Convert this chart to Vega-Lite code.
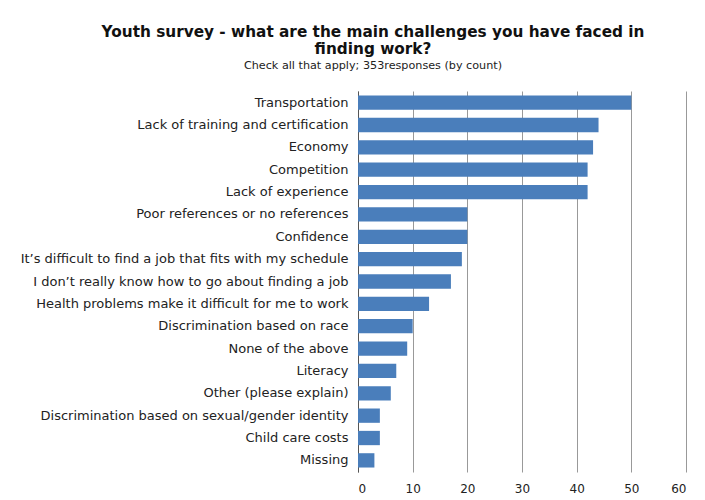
{
  "$schema": "https://vega.github.io/schema/vega-lite/v6.json",
  "width": 328,
  "height": 381,
  "autosize": {"type": "none"},
  "padding": {"left": 358, "top": 91, "right": 19, "bottom": 28},
  "background": "white",
  "title": {
    "text": ["Youth survey - what are the main challenges you have faced in", "finding work?"],
    "subtitle": "Check all that apply; 353responses (by count)",
    "font": "DejaVu Sans",
    "fontSize": 15.3,
    "fontWeight": "bold",
    "color": "#111111",
    "lineHeight": 17,
    "subtitleFont": "DejaVu Sans",
    "subtitleFontSize": 11.2,
    "subtitleColor": "#222222",
    "subtitlePadding": 3,
    "anchor": "middle",
    "dx": -149,
    "offset": 20
  },
  "data": {
    "values": [
      {"challenge": "Transportation", "count": 50},
      {"challenge": "Lack of training and certification", "count": 44},
      {"challenge": "Economy", "count": 43},
      {"challenge": "Competition", "count": 42},
      {"challenge": "Lack of experience", "count": 42},
      {"challenge": "Poor references or no references", "count": 20},
      {"challenge": "Confidence", "count": 20},
      {"challenge": "It’s difficult to find a job that fits with my schedule", "count": 19},
      {"challenge": "I don’t really know how to go about finding a job", "count": 17},
      {"challenge": "Health problems make it difficult for me to work", "count": 13},
      {"challenge": "Discrimination based on race", "count": 10},
      {"challenge": "None of the above", "count": 9},
      {"challenge": "Literacy", "count": 7},
      {"challenge": "Other (please explain)", "count": 6},
      {"challenge": "Discrimination based on sexual/gender identity", "count": 4},
      {"challenge": "Child care costs", "count": 4},
      {"challenge": "Missing", "count": 3}
    ]
  },
  "mark": {"type": "bar", "color": "#4a7ebb"},
  "encoding": {
    "y": {
      "field": "challenge",
      "type": "nominal",
      "sort": null,
      "scale": {"paddingInner": 0.36, "paddingOuter": 0.2},
      "axis": {
        "title": null,
        "labelFont": "DejaVu Sans",
        "labelFontSize": 13,
        "labelColor": "#222222",
        "labelLimit": 400,
        "labelPadding": 10,
        "domainColor": "#555555",
        "ticks": false
      }
    },
    "x": {
      "field": "count",
      "type": "quantitative",
      "scale": {"domain": [0, 60], "nice": false},
      "axis": {
        "title": null,
        "values": [0, 10, 20, 30, 40, 50, 60],
        "labelFont": "DejaVu Sans",
        "labelFontSize": 12,
        "labelColor": "#222222",
        "labelPadding": 11,
        "domain": false,
        "ticks": false,
        "grid": true,
        "gridColor": "#999999",
        "gridWidth": 1
      }
    }
  },
  "config": {"view": {"stroke": null}}
}
